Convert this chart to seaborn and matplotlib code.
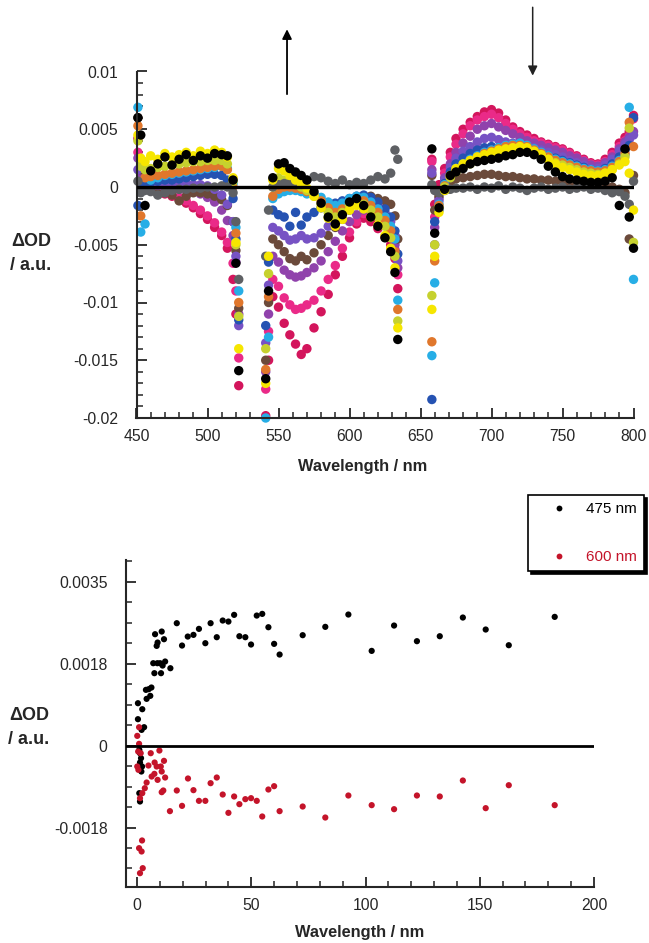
import numpy as np
import pandas as pd
import matplotlib
matplotlib.use("Agg")
import matplotlib.pyplot as plt
import matplotlib.ticker as mticker
from matplotlib.lines import Line2D
import seaborn as sns

# ---------------------------------------------------------------------------
# Transient absorption spectra: wavelength grid (nm), three detection windows
# separated by the gaps around the pump / notch filter regions.
# ---------------------------------------------------------------------------
wl_window_a = [451, 453, 456, 460, 465, 470, 475, 480, 485, 490, 495, 500, 505,
               510, 514, 518, 520, 522]
wl_window_b = [541, 543, 546, 550, 554, 558, 562, 566, 570, 575, 580, 585, 590,
               595, 600, 605, 610, 615, 620, 625, 629, 632, 634]
wl_window_c = [658, 660, 663, 667, 671, 675, 680, 685, 690, 695, 700, 705, 710,
               715, 720, 725, 730, 735, 740, 745, 750, 755, 760, 765, 770, 775,
               780, 785, 790, 794, 797, 800]
wavelength = wl_window_a + wl_window_b + wl_window_c

# Delta OD of each delay trace, in units of 1e-3 (windows a | b | c)
trace_crimson = [4.2, 1.0, 0.2, -0.2, -0.4, -0.6, -0.8, -1.1, -1.4, -1.8, -2.3, -2.8, -3.5, -4.2, -5.3, -8.0, -11.0, -17.2,
                 -19.8, -15.0, -9.5, -10.4, -11.8, -12.8, -13.6, -14.5, -14.0, -12.2, -10.8, -9.3, -7.6, -6.0, -4.4, -3.2, -2.7, -3.0, -3.6, -4.3, -5.0, -6.2, -8.8,
                 2.4, -1.5, 0.2, 1.6, 3.0, 4.2, 5.0, 5.6, 6.1, 6.5, 6.7, 6.4, 5.8, 5.2, 4.8, 4.5, 4.2, 3.9, 3.7, 3.5, 3.3, 3.0, 2.7, 2.4, 2.1, 2.0, 2.4, 3.0, 3.8, 4.3, 4.8, 6.2]
trace_hotpink = [3.0, 0.5, 0.0, -0.1, -0.3, -0.5, -0.7, -0.9, -1.2, -1.6, -2.0, -2.5, -3.1, -3.9, -4.8, -6.6, -9.0, -14.8,
                 -17.5, -12.5, -8.0, -8.6, -9.6, -10.2, -10.6, -10.5, -10.2, -9.8, -9.0, -8.0, -6.8, -5.3, -3.9, -3.0, -2.3, -2.0, -2.4, -3.2, -4.0, -5.4, -7.6,
                 2.2, -2.6, -0.5, 1.2, 2.6, 3.7, 4.6, 5.3, 5.8, 6.1, 6.3, 6.0, 5.5, 5.0, 4.6, 4.3, 4.0, 3.8, 3.6, 3.4, 3.2, 2.9, 2.6, 2.3, 2.0, 1.9, 2.2, 2.8, 3.5, 4.0, 4.4, 5.9]
trace_purple = [2.5, 0.8, 0.3, 0.0, -0.1, -0.1, -0.2, -0.2, -0.3, -0.4, -0.6, -0.9, -1.3, -2.0, -2.9, -4.2, -6.5, -11.0,
                -16.0, -11.0, -6.0, -6.5, -7.2, -7.6, -7.8, -7.7, -7.4, -7.0, -6.4, -5.6, -4.7, -3.8, -3.0, -2.4, -2.0, -1.9, -2.2, -2.9, -3.8, -5.0, -7.0,
                1.5, -3.5, -1.0, 0.8, 2.0, 3.0, 3.8, 4.4, 5.0, 5.3, 5.5, 5.2, 4.9, 4.6, 4.3, 4.0, 3.8, 3.6, 3.4, 3.2, 3.0, 2.7, 2.5, 2.2, 1.9, 1.8, 2.1, 2.6, 3.3, 3.9, 4.3, 4.8]
trace_brown = [6.0, 1.5, 0.2, -0.3, -0.6, -0.5, -0.7, -1.2, -0.8, -0.5, -0.5, -0.6, -0.8, -1.1, -1.6, -3.0, -5.5, -10.5,
               -15.0, -10.0, -4.5, -5.0, -5.6, -6.2, -6.4, -6.0, -6.3, -5.7, -5.0, -4.2, -3.5, -2.8, -2.0, -1.4, -1.0, -0.8, -1.0, -1.2, -1.5, -2.5, -4.5,
               1.0, -2.0, -0.8, 0.0, 0.4, 0.7, 0.8, 0.9, 1.0, 1.1, 1.1, 1.0, 0.9, 0.9, 0.8, 0.7, 0.7, 0.6, 0.6, 0.5, 0.5, 0.4, 0.4, 0.3, 0.3, 0.2, 0.1, 0.0, -0.2, -0.5, -4.5, 1.0]
trace_violet = [1.5, 0.5, 0.3, 0.2, 0.2, 0.2, 0.3, 0.3, 0.3, 0.2, 0.2, 0.1, -0.2, -0.7, -1.5, -3.0, -6.0, -12.0,
                -13.5, -8.5, -3.5, -3.8, -4.2, -4.6, -4.5, -4.2, -4.5, -4.4, -4.0, -3.4, -2.8, -2.2, -1.7, -1.3, -1.1, -1.2, -1.6, -2.2, -3.0, -4.2, -6.4,
                1.2, -5.0, -1.2, 0.6, 1.7, 2.5, 3.1, 3.5, 3.9, 4.2, 4.3, 4.1, 3.9, 3.8, 3.6, 3.5, 3.4, 3.2, 3.0, 2.8, 2.6, 2.3, 2.1, 1.9, 1.6, 1.6, 1.9, 2.4, 3.1, 3.7, 4.1, 4.5]
trace_blue = [-1.6, 0.2, 0.4, 0.4, 0.5, 0.6, 0.6, 0.7, 0.8, 0.9, 1.0, 1.1, 1.1, 1.0, 0.6, -1.0, -4.5, -11.5,
              -12.0, -6.5, -2.0, -2.4, -2.6, -3.4, -2.2, -3.3, -2.6, -2.2, -1.8, -1.6, -1.4, -1.2, -1.0, -0.8, -0.7, -0.9, -1.3, -1.9, -2.6, -3.8, -5.8,
              -18.4, -3.0, -2.0, 0.3, 1.3, 2.0, 2.5, 2.9, 3.2, 3.4, 3.5, 3.4, 3.4, 3.4, 3.3, 3.2, 3.1, 2.9, 2.7, 2.5, 2.3, 2.1, 1.9, 1.7, 1.5, 1.4, 1.6, 2.0, 2.6, 3.2, 3.6, 6.0]
trace_cyan = [6.9, -3.9, -3.2, 0.6, 0.8, 1.0, 1.1, 1.2, 1.3, 1.4, 1.5, 1.6, 1.7, 1.8, 1.6, 0.3, -3.5, -9.0,
              -20.0, -13.0, -1.0, -0.6, -0.4, -0.3, -0.3, -0.4, -0.6, -0.6, -0.9, -1.3, -1.6, -1.4, -1.0, -0.8, -0.9, -1.3, -1.9, -2.6, -3.4, -4.5, -9.8,
              -14.6, -8.3, -1.5, 0.2, 1.0, 1.6, 2.0, 2.4, 2.7, 3.0, 3.2, 3.4, 3.6, 3.7, 3.8, 3.6, 3.3, 3.0, 2.7, 2.4, 2.2, 2.0, 1.8, 1.6, 1.5, 1.4, 1.5, 1.8, 2.3, 2.8, 6.9, -8.0]
trace_orange = [5.3, -2.5, 0.8, 0.9, 1.0, 1.1, 1.2, 1.3, 1.4, 1.5, 1.6, 1.7, 1.8, 1.8, 1.5, 0.0, -4.0, -10.0,
                -15.8, -9.5, -0.8, -0.2, 0.0, 0.0, -0.1, -0.2, -0.4, -0.7, -1.2, -1.8, -2.2, -1.9, -1.4, -1.1, -1.2, -1.6, -2.2, -2.9, -3.8, -5.6, -10.6,
                -13.4, -6.4, -1.6, 0.1, 0.9, 1.5, 1.9, 2.3, 2.6, 2.9, 3.1, 3.3, 3.5, 3.6, 3.6, 3.5, 3.2, 2.9, 2.6, 2.3, 2.1, 1.9, 1.7, 1.5, 1.4, 1.3, 1.4, 1.7, 2.2, 2.9, 5.6, 3.5]
trace_lime = [4.0, 1.8, 1.5, 1.6, 1.7, 1.8, 1.9, 2.0, 2.1, 2.2, 2.2, 2.3, 2.3, 2.3, 2.0, 0.5, -5.0, -11.2,
              -14.0, -7.5, 0.0, 0.8, 0.6, 0.4, 0.2, 0.0, -0.3, -0.8, -1.5, -2.2, -2.6, -2.2, -1.6, -1.3, -1.5, -2.0, -2.6, -3.4, -4.4, -6.0, -11.6,
              -9.4, -5.0, -1.8, 0.0, 0.8, 1.3, 1.7, 2.0, 2.3, 2.5, 2.7, 2.9, 3.1, 3.2, 3.3, 3.2, 3.0, 2.7, 2.4, 2.1, 1.9, 1.7, 1.5, 1.3, 1.2, 1.1, 1.2, 1.5, 2.0, 2.6, 5.1, -4.8]
trace_gray = [0.5, -0.5, -0.3, -0.4, -0.7, -0.5, -0.3, -0.2, -0.2, -0.1, -0.1, 0.0, 0.0, 0.1, 0.0, -0.5, -3.0, -8.0,
              -6.0, -2.0, 0.0, 0.2, 0.3, 0.3, 0.2, 0.4, 0.6, 0.9, 0.8, 0.5, 0.3, 0.6, 0.2, 0.4, 0.3, 0.6, 0.9, 0.7, 1.2, 3.2, 2.4,
              0.2, -0.3, -0.5, -0.3, -0.2, -0.1, -0.1, 0.0, -0.2, 0.0, -0.1, 0.1, -0.2, 0.0, -0.1, -0.3, -0.1, 0.0, -0.2, -0.1, 0.0, -0.2, -0.1, 0.0, -0.2, -0.1, -0.3, -0.5, -0.4, -0.8, -1.5, 0.5]
trace_yellow = [4.5, 2.5, 2.2, 2.7, 2.4, 2.9, 2.6, 2.8, 3.0, 2.7, 3.1, 2.9, 3.2, 3.0, 2.6, 0.8, -4.8, -14.0,
                -17.0, -6.0, 0.6, 1.6, 1.4, 1.0, 0.6, 0.3, -0.1, -0.8, -1.8, -2.7, -3.4, -2.8, -2.0, -1.6, -1.9, -2.6, -3.3, -4.2, -5.3, -7.0, -12.2,
                -10.6, -6.0, -2.2, -0.3, 1.0, 1.6, 2.0, 2.3, 2.6, 2.8, 3.0, 3.2, 3.3, 3.4, 3.5, 3.4, 3.1, 2.8, 2.4, 2.0, 1.7, 1.5, 1.3, 1.1, 1.0, 1.0, 1.2, 1.5, 1.9, 2.2, 1.2, -2.0]
trace_black = [6.0, 4.5, -1.6, 1.4, 2.0, 2.6, 1.9, 2.4, 2.8, 2.3, 2.7, 2.5, 2.9, 2.8, 2.7, 0.6, -6.6, -15.9,
               -16.6, -9.0, 0.8, 2.0, 2.1, 1.6, 1.3, 1.0, 0.6, -0.4, -1.4, -2.6, -3.2, -2.4, -1.3, -1.0, -1.6, -2.6, -3.4, -4.4, -5.6, -7.4, -13.2,
               3.3, -4.0, -1.8, -0.2, 1.0, 1.3, 1.6, 2.0, 2.2, 2.3, 2.4, 2.5, 2.7, 2.8, 3.0, 3.0, 2.8, 2.4, 1.8, 1.3, 0.9, 0.7, 0.6, 0.5, 0.4, 0.4, 0.5, 0.8, -1.6, 3.3, -2.6, -5.3]

# Drawing order: later traces sit on top of earlier ones
traces = {
    "crimson": trace_crimson, "hotpink": trace_hotpink, "purple": trace_purple,
    "brown": trace_brown, "violet": trace_violet, "blue": trace_blue,
    "cyan": trace_cyan, "orange": trace_orange, "lime": trace_lime,
    "gray": trace_gray, "yellow": trace_yellow, "black": trace_black,
}
trace_colors = {
    "crimson": "#d3155c", "hotpink": "#ea2a88", "purple": "#9042ac",
    "brown": "#6b4a3b", "violet": "#7752c4", "blue": "#2552b2",
    "cyan": "#27aee6", "orange": "#e0772c", "lime": "#c6d12e",
    "gray": "#5e6064", "yellow": "#f6e600", "black": "#000000",
}

# ---------------------------------------------------------------------------
# Kinetic traces at two probe wavelengths
# ---------------------------------------------------------------------------
t_475 = [0.4, 2.3, 0.4, 3.1, 2.0, 1.0, 1.3, 1.75, 1.3, 2.2, 1.9, 1.0, 1.3, 3.9, 5.1,
         4.2, 5.8, 6.3, 7.1, 7.6, 8.9, 10.1, 10.5, 11.2, 12.3, 14.6, 7.9, 9.0, 8.6, 10.8,
         11.8, 17.4, 19.7, 22.2, 24.7, 27.1, 29.9, 32.2, 34.9, 37.5, 40.0, 42.5, 44.8, 47.4, 49.9,
         52.4, 54.8, 57.5, 60.0, 62.4, 72.5, 82.4, 92.5, 102.7, 112.5, 122.5, 132.5, 142.6, 152.6, 162.7,
         182.8]
dOD_475 = [0.000903, 0.000775, 0.000562, 0.000391, 0.000334, -0.000092, -0.000164, -0.00027, -0.000363, -0.000448,
           -0.000555, -0.001017, -0.001195, 0.001188, 0.001202, 0.000996, 0.00106, 0.001238, 0.001757, 0.001544,
           0.001757, 0.001757, 0.001544, 0.001707, 0.001793, 0.00165, 0.002376, 0.002198, 0.002127, 0.002433,
           0.002269, 0.002611, 0.002134, 0.002326, 0.002362, 0.00249, 0.002184, 0.002611, 0.002312, 0.002668,
           0.002646, 0.002789, 0.002333, 0.002312, 0.002156, 0.002774, 0.00281, 0.002525, 0.00217, 0.001942,
           0.002355, 0.002533, 0.002796, 0.00202, 0.002561, 0.002227, 0.002333, 0.002732, 0.002476, 0.002141,
           0.002746]
t_600 = [0.9, 0.1, 0.9, 0.5, 0.1, 0.6, 1.6, 6.0, 9.8, 5.0, 7.7, 8.6, 10.4, 11.8, 6.4,
         7.6, 9.0, 10.8, 12.3, 4.2, 3.4, 2.3, 1.3, 10.8, 11.5, 14.4, 17.4, 19.7, 22.3, 24.7,
         27.1, 29.9, 32.2, 34.9, 2.2, 0.9, 2.0, 2.5, 1.3, 37.5, 40.0, 42.5, 44.8, 47.4, 49.9,
         52.4, 54.8, 57.5, 60.0, 62.4, 72.5, 82.4, 92.5, 102.7, 112.5, 122.5, 132.5, 142.6, 152.6, 162.7,
         182.8]
dOD_600 = [0.000391, 0.000206, 0.000036, -0.000128, -0.000448, -0.000519, -0.000164, -0.000164, -0.000107, -0.000427,
           -0.000363, -0.000448, -0.000448, -0.000327, -0.000662, -0.000605, -0.000733, -0.000555, -0.000683, -0.00079,
           -0.000911, -0.001017, -0.001124, -0.000996, -0.00096, -0.001401, -0.00096, -0.001288, -0.000704, -0.000953,
           -0.001181, -0.001181, -0.000804, -0.000683, -0.002027, -0.002191, -0.002262, -0.002618, -0.002725, -0.001046,
           -0.001437, -0.001088, -0.001252, -0.001145, -0.001124, -0.001181, -0.001515, -0.000939, -0.000868, -0.001401,
           -0.001302, -0.001537, -0.001067, -0.001273, -0.001359, -0.001067, -0.001088, -0.000747, -0.001337, -0.000847,
           -0.001273]
kinetic_labels = ["475 nm", "600 nm"]
kinetic_colors = {"475 nm": "#000000", "600 nm": "#c4142a"}

# ---------------------------------------------------------------------------
# Long-form tables
# ---------------------------------------------------------------------------
spectra = pd.concat(
    [pd.DataFrame({"wavelength": wavelength,
                   "dOD": np.asarray(vals, dtype=float) * 1e-3,
                   "trace": name})
     for name, vals in traces.items()],
    ignore_index=True)

kinetics = pd.concat(
    [pd.DataFrame({"time": t_475, "dOD": dOD_475, "probe": "475 nm"}),
     pd.DataFrame({"time": t_600, "dOD": dOD_600, "probe": "600 nm"})],
    ignore_index=True)

# ---------------------------------------------------------------------------
# Figure
# ---------------------------------------------------------------------------
sns.set_style("ticks")
plt.rcParams["font.family"] = ["Liberation Sans", "DejaVu Sans"]
plt.rcParams["font.size"] = 11

W, H = 649, 943
fig = plt.figure(figsize=(W / 100, H / 100), dpi=100)

def px_axes(x0, y0, x1, y1):
    return fig.add_axes([x0 / W, 1 - y1 / H, (x1 - x0) / W, (y1 - y0) / H])

ax_top = px_axes(136.5, 71.5, 633.5, 418)
ax_bot = px_axes(125.6, 560, 594, 887)

# --- top: transient spectra ---
sns.scatterplot(data=spectra, x="wavelength", y="dOD", hue="trace",
                palette=trace_colors, s=46, linewidth=0, legend=False,
                ax=ax_top, zorder=2, clip_on=False)
ax_top.axhline(0, color="black", lw=2.4, zorder=3)
ax_top.set_xlim(450, 800)
ax_top.set_ylim(-0.02, 0.01)
ax_top.xaxis.set_major_locator(mticker.MultipleLocator(50))
ax_top.xaxis.set_minor_locator(mticker.MultipleLocator(10))
ax_top.yaxis.set_major_locator(mticker.MultipleLocator(0.005))
ax_top.yaxis.set_minor_locator(mticker.MultipleLocator(0.001))
ax_top.yaxis.set_major_formatter(
    mticker.FuncFormatter(lambda v, p: "0" if abs(v) < 1e-12 else f"{v:g}"))

ax_top.annotate("", xy=(556, 0.0139), xytext=(556, 0.0078),
                arrowprops=dict(arrowstyle="-|>", color="black", lw=1.3,
                                mutation_scale=14),
                annotation_clip=False)
ax_top.annotate("", xy=(729, 0.0094), xytext=(729, 0.0158),
                arrowprops=dict(arrowstyle="-|>", color="#222222", lw=1.1,
                                mutation_scale=14),
                annotation_clip=False)

# --- bottom: kinetics ---
sns.scatterplot(data=kinetics, x="time", y="dOD", hue="probe",
                hue_order=kinetic_labels, palette=kinetic_colors,
                s=20, linewidth=0, legend=False, ax=ax_bot, zorder=2,
                clip_on=False)
ax_bot.axhline(0, color="black", lw=2.0, zorder=3)
ax_bot.set_xlim(-5, 200)
ax_bot.set_ylim(-0.00302, 0.00396)
ax_bot.xaxis.set_major_locator(mticker.MultipleLocator(50))
ax_bot.xaxis.set_minor_locator(mticker.MultipleLocator(10))
ax_bot.yaxis.set_major_locator(mticker.FixedLocator([-0.00175, 0, 0.00175, 0.0035]))
ax_bot.yaxis.set_major_formatter(mticker.FixedFormatter(["-0.0018", "0", "0.0018", "0.0035"]))
ax_bot.yaxis.set_minor_locator(mticker.MultipleLocator(0.0004375))

for ax in (ax_top, ax_bot):
    ax.set_xlabel("")
    ax.set_ylabel("")
    sns.despine(ax=ax)
    for side in ("left", "bottom"):
        ax.spines[side].set_linewidth(1.5)
    ax.tick_params(which="major", direction="in", length=7, width=1.3,
                   labelsize=11.3)
    ax.tick_params(which="minor", direction="in", length=4, width=1.1)
    ax.tick_params(axis="y", which="major", pad=13)
    ax.tick_params(axis="x", which="major", pad=8)

# axis titles
lab = dict(fontsize=13, fontweight="bold", ha="left", va="center")
fig.text(11 / W, 1 - 242 / H, "\u0394OD", **lab)
fig.text(10 / W, 1 - 266 / H, "/ a.u.", **lab)
fig.text(9 / W, 1 - 716 / H, "\u0394OD", **lab)
fig.text(8 / W, 1 - 740 / H, "/ a.u.", **lab)
fig.text(363 / W, 1 - 467 / H, "Wavelength / nm", fontsize=11.8,
         fontweight="bold", ha="center", va="center")
fig.text(360 / W, 1 - 933 / H, "Wavelength / nm", fontsize=11.8,
         fontweight="bold", ha="center", va="center")

# legend for the kinetic traces
handles = [Line2D([], [], ls="none", marker="o", markersize=4.2,
                  markerfacecolor=kinetic_colors[k], markeredgewidth=0)
           for k in kinetic_labels]
leg = fig.legend(handles, kinetic_labels, loc="upper left",
                 bbox_to_anchor=(528 / W, 1 - 495 / H),
                 bbox_transform=fig.transFigure, frameon=True, fancybox=False,
                 edgecolor="black", framealpha=1, borderpad=0.45,
                 labelspacing=2.25, handlelength=3.15, handletextpad=0.2,
                 borderaxespad=0, fontsize=11,
                 shadow={"color": "black", "alpha": 1.0})
leg.get_frame().set_linewidth(1.2)
for txt, k in zip(leg.get_texts(), kinetic_labels):
    txt.set_color(kinetic_colors[k])

fig.savefig("out.png", dpi=100)
